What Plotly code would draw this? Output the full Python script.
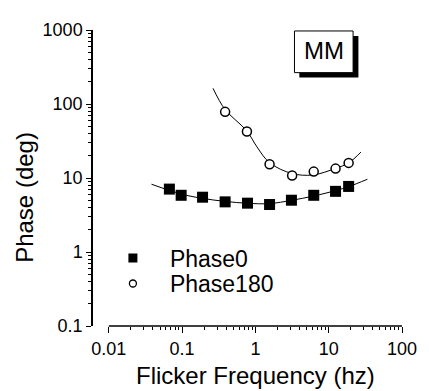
import plotly.graph_objects as go
import numpy as np

# ---- data ----
freq0 = [0.067, 0.097, 0.19, 0.386, 0.78, 1.56, 3.1, 6.25, 12.4, 18.7]
phase0 = [7.08, 5.84, 5.50, 4.76, 4.57, 4.38, 5.01, 5.84, 6.6, 7.69]

freq180 = [0.386, 0.766, 1.56, 3.17, 6.25, 12.4, 18.7]
phase180 = [78.3, 42.5, 15.3, 10.8, 12.2, 13.4, 16.0]

fit0_x = [0.0382, 0.097, 0.19, 0.386, 0.78, 1.56, 3.1, 6.25, 12.4, 18.7, 33.7]
fit0_y = [8.24, 6.08, 5.30, 4.83, 4.55, 4.51, 4.99, 5.71, 6.76, 7.64, 9.62]

fit180_x = [0.264, 0.383, 0.766, 1.05, 1.56, 3.16, 6.12, 12.4, 18.7, 27.5]
fit180_y = [163, 85, 43, 26.3, 16.1, 11.5, 11.0, 13.5, 16.0, 22.4]

x_ticks = [0.01, 0.1, 1, 10, 100]
x_tick_text = ["0.01", "0.1", "1", "10", "100"]
y_ticks = [0.1, 1, 10, 100, 1000]
y_tick_text = ["0.1", "1", "10", "100", "1000"]

FONT = "Liberation Sans, Arial, sans-serif"
PAGE_OFF = 8  # default body margin of the html page
W, H = 429 - PAGE_OFF, 391 - PAGE_OFF
L, T = 93 - PAGE_OFF, 24 - PAGE_OFF
R, B = 17, 65
PW, PH = W - L - R, H - T - B

xr = [-2.216, 2.0]
yr = [-1.0, 3.0]

def minor_vals(lo, hi):
    out = []
    for e in range(lo, hi):
        for m in range(2, 10):
            out.append(m * 10 ** e)
    return out

# convert window pixel positions (reference picture) to paper fractions
def px2paper_x(px):
    return (px - PAGE_OFF - L) / PW

def px2paper_y(py):
    return 1 - (py - PAGE_OFF - T) / PH

fig = go.Figure()

fig.add_trace(go.Scatter(x=fit0_x, y=fit0_y, mode="lines", line=dict(color="black", width=1, shape="spline"),
                         showlegend=False, hoverinfo="skip"))
fig.add_trace(go.Scatter(x=fit180_x, y=fit180_y, mode="lines", line=dict(color="black", width=1, shape="spline"),
                         showlegend=False, hoverinfo="skip"))
fig.add_trace(go.Scatter(x=freq0, y=phase0, mode="markers", name="Phase0",
                         marker=dict(symbol="square", size=11, color="black"), showlegend=False))
fig.add_trace(go.Scatter(x=freq180, y=phase180, mode="markers", name="Phase180",
                         marker=dict(symbol="circle", size=9, color="white", line=dict(color="black", width=1.5)),
                         showlegend=False))

# legend entries
fig.add_trace(go.Scatter(x=[None], y=[None], mode="markers", name="Phase0",
                         marker=dict(symbol="square", size=9, color="black"), legend="legend"))
fig.add_trace(go.Scatter(x=[None], y=[None], mode="markers", name="Phase180",
                         marker=dict(symbol="circle", size=7, color="white", line=dict(color="black", width=1.3)),
                         legend="legend2"))

axis_common = dict(showgrid=False, zeroline=False, type="log", ticks="outside",
                   tickcolor="black", tickwidth=1, tickfont=dict(family=FONT, size=18, color="black"))

fig.update_xaxes(**axis_common, range=xr, showline=False, tickmode="array", tickvals=x_ticks,
                 ticktext=x_tick_text, ticklen=6,
                 minor=dict(tickmode="array", tickvals=minor_vals(-2, 2), ticks="outside", ticklen=3,
                            tickcolor="black", tickwidth=1))
fig.update_yaxes(**axis_common, range=yr, showline=True, linecolor="black", linewidth=1.5,
                 tickmode="array", tickvals=y_ticks, ticktext=y_tick_text, ticklen=5,
                 minor=dict(tickmode="array", tickvals=minor_vals(-1, 3), ticks="outside", ticklen=3,
                            tickcolor="black", tickwidth=1))

x_line_start = (np.log10(x_ticks[0]) - xr[0]) / (xr[1] - xr[0])

shapes = [
    dict(type="line", xref="paper", yref="paper", x0=x_line_start, x1=1.0, y0=0, y1=0,
         line=dict(color="black", width=1.5)),
    # MM box shadow and box
    dict(type="rect", xref="paper", yref="paper", x0=px2paper_x(306), x1=px2paper_x(367),
         y0=px2paper_y(72.5), y1=px2paper_y(30), fillcolor="black", line=dict(width=0)),
    dict(type="rect", xref="paper", yref="paper", x0=px2paper_x(301), x1=px2paper_x(361.5),
         y0=px2paper_y(67.5), y1=px2paper_y(25), fillcolor="white", line=dict(color="black", width=1)),
]

annotations = [
    dict(text="MM", xref="paper", yref="paper", x=px2paper_x(331), y=px2paper_y(44.5),
         showarrow=False, font=dict(family=FONT, size=24, color="black"), xanchor="center", yanchor="middle"),
    dict(text="Flicker Frequency (hz)", xref="paper", yref="paper", x=px2paper_x(261), y=px2paper_y(376),
         showarrow=False, font=dict(family=FONT, size=24, color="black"), xanchor="center", yanchor="middle"),
    dict(text="Phase (deg)", xref="paper", yref="paper", x=px2paper_x(22), y=px2paper_y(195),
         showarrow=False, textangle=-90, font=dict(family=FONT, size=24, color="black"),
         xanchor="center", yanchor="middle"),
]

legend_style = dict(font=dict(family=FONT, size=23, color="black"), bgcolor="rgba(0,0,0,0)",
                    borderwidth=0, xanchor="left", yanchor="middle", itemwidth=64)

fig.update_layout(
    width=W, height=H,
    margin=dict(l=L, r=R, t=T, b=B),
    paper_bgcolor="white", plot_bgcolor="white",
    shapes=shapes, annotations=annotations,
    legend=dict(**legend_style, x=px2paper_x(96), y=px2paper_y(256.7)),
    legend2=dict(**legend_style, x=px2paper_x(96), y=px2paper_y(282.7)),
)

fig.write_html("out.html")
